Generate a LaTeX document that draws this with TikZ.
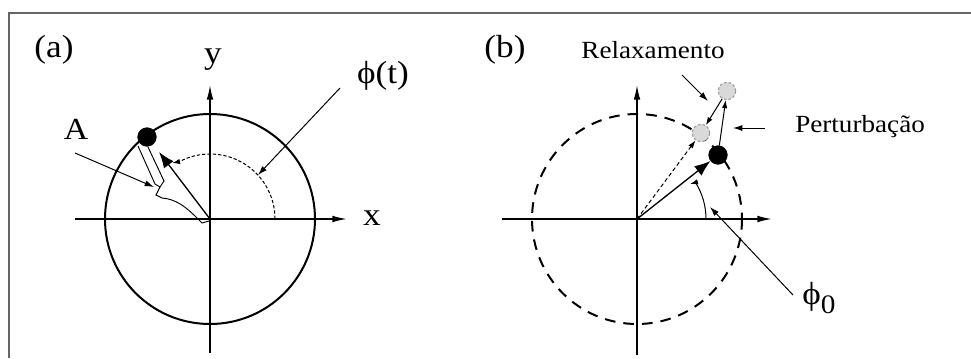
\documentclass[tikz,border=0pt]{standalone}
\usepackage{fontspec}
\setmainfont{Liberation Serif}
\newfontfamily\strf[FakeStretch=1.1]{Liberation Serif}
\usetikzlibrary{arrows.meta}
\begin{document}
\begin{tikzpicture}[x=0.75pt,y=-0.75pt,
  bigl/.style={font=\strf\fontsize{24}{28}\selectfont, inner sep=0pt},
  midl/.style={font=\strf\fontsize{23}{26}\selectfont, inner sep=0pt},
  smalll/.style={font=\strf\fontsize{18.5}{22}\selectfont, inner sep=0pt},
  axisline/.style={line width=1.1pt,-{Latex[length=11pt,width=5pt]}},
  ptr/.style={line width=0.75pt,-{Latex[length=7pt,width=4.5pt]}},
  vec/.style={line width=1pt,-{Latex[length=12pt,width=9pt]}},
  smallarr/.style={line width=0.75pt,-{Latex[length=6pt,width=4pt]}},
  fine/.style={line width=0.75pt,dash pattern=on 2.5pt off 1.5pt},
  blackdot/.style={circle,fill=black,draw=black,minimum size=14pt,inner sep=0pt},
  graydot/.style={circle,fill=gray!30,draw=gray!80,dashed,dash pattern=on 2pt off 1.5pt,line width=0.8pt,minimum size=13pt,inner sep=0pt},
  rim/.style={line width=1.5pt},
  ]
\useasboundingbox (0,0) rectangle (971,358);
\draw[gray!80!black, line width=1.2pt] (9,358) -- (9,13) -- (971,13);

% ---------- panel (a)
\coordinate (Oa) at (210,219);
\draw[rim] (Oa) circle[radius=105];
\coordinate (axLa) at (75,219);
\coordinate (axRa) at (347,219);
\coordinate (axBa) at (210,353);
\coordinate (axTa) at (210,85);
\draw[axisline] (axLa) -- (axRa);
\draw[axisline] (axBa) -- (axTa);
\node[bigl] (la) at (54,50) {(a)};
\node[bigl] (ly) at (213,60) {y};
\node[bigl] (lx) at (372,218) {x};
\node[midl] (lA) at (76,129) {A};
\node[bigl] (lphit) at (383,76) {ϕ(t)};

\node[blackdot] (Pa) at (147,137) {};
\coordinate (Va) at (159,152);
\draw[vec] (Oa) -- (Va);
\draw[fine] (275,219) arc[start angle=0,end angle=-118,radius=65] coordinate (arcA);
\coordinate (arcAtip) at (172,163);
\draw[smallarr] (arcA) -- (arcAtip);

\coordinate (phitS) at (340,88);
\coordinate (phitE) at (258,175);
\draw[ptr] (phitS) -- (phitE);

\coordinate (AS) at (75,153);
\coordinate (AE) at (154,187);
\draw[ptr] (AS) -- (AE);

\draw[line width=0.7pt] (138,146) -- (155,184) -- (160,187) -- (156,195) -- (162,198)
  .. controls (176,199) and (186,207) .. (197,218) -- (202,223) -- (209,221);
\draw[line width=0.7pt] (148,147) -- (164,181) -- (160,187);

% ---------- panel (b)
\coordinate (Ob) at (637,219);
\draw[rim,dash pattern=on 8pt off 6pt] (Ob) circle[radius=105];
\coordinate (axLb) at (502,219);
\coordinate (axRb) at (772,219);
\coordinate (axBb) at (637,355);
\coordinate (axTb) at (637,85);
\draw[axisline] (axLb) -- (axRb);
\draw[axisline] (axBb) -- (axTb);
\node[bigl] (lb) at (505,50) {(b)};

\node[graydot] (G1) at (701,133) {};
\node[graydot] (G2) at (727,91) {};
\node[blackdot] (Pb) at (718,155) {};

\draw[vec] (Ob) -- (Pb);
\draw[smallarr,dashed,dash pattern=on 3pt off 2pt] (Ob) -- (G1);
\draw[smallarr] (Pb) -- (G2);
\draw[smallarr] (G2) -- (G1);

\draw[line width=0.75pt] (706,219) arc[start angle=0,end angle=-32,radius=69] coordinate (arcB);
\coordinate (arcBtip) at (690,184);
\draw[smallarr] (arcB) -- (arcBtip);

\node[smalll] (lrel) at (653,50) {Relaxamento};
\coordinate (relS) at (682,75);
\coordinate (relE) at (708,101);
\draw[ptr] (relS) -- (relE);

\node[smalll,anchor=west] (lper) at (795,127) {Perturbação};
\coordinate (perS) at (765,128);
\coordinate (perE) at (733,128);
\draw[ptr] (perS) -- (perE);

\node[bigl] (lphi0) at (819,298) {ϕ\raisebox{-0.55ex}{\fontsize{20}{20}\selectfont 0}};
\coordinate (p0S) at (793,295);
\coordinate (p0E) at (710,207);
\draw[ptr] (p0S) -- (p0E);
\end{tikzpicture}
\end{document}
